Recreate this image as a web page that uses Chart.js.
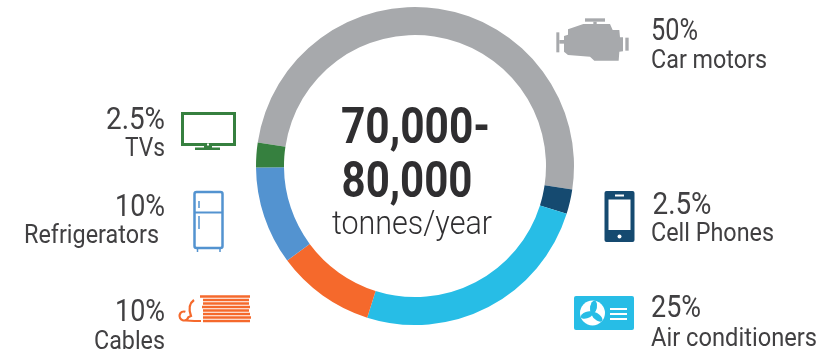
<!DOCTYPE html>
<html>
<head>
<meta charset="utf-8">
<script src="https://cdn.jsdelivr.net/npm/chart.js@4"></script>
<style>
html, body { margin: 0; padding: 0; background: #fff; }
#wrap { width: 834px; height: 352px; }
</style>
</head>
<body>
<div id="wrap"><canvas id="chart"></canvas></div>
<script>
const categories = ['Car motors', 'Cell Phones', 'Air conditioners', 'Cables', 'Refrigerators', 'TVs'];
const shares = [50, 2.5, 25, 10, 10, 2.5];
const shareLabels = ['50%', '2.5%', '25%', '10%', '10%', '2.5%'];
const colors = ['#a7a9ac', '#154a70', '#27bde6', '#f5692c', '#5393d0', '#36803f'];
const centerLines = ['70,000-', '80,000', 'tonnes/year'];

const textColor = '#414042';

// Roboto is wider than the original condensed face, so squeeze each text to its width
function label(ctx, text, x, y, size, width, align, weight, color) {
    ctx.save();
    ctx.font = (weight || 400) + ' ' + size + 'px Roboto';
    ctx.fillStyle = color || textColor;
    ctx.textBaseline = 'alphabetic';
    ctx.textAlign = 'left';
    const w = ctx.measureText(text).width;
    const left = align === 'right' ? x - width : (align === 'center' ? x - width / 2 : x);
    ctx.translate(left, y);
    ctx.scale(width / w, 1);
    ctx.fillText(text, 0, 0);
    ctx.restore();
}

function poly(ctx, pts) {
    ctx.beginPath();
    pts.forEach((p, i) => i ? ctx.lineTo(p[0], p[1]) : ctx.moveTo(p[0], p[1]));
    ctx.closePath();
    ctx.fill();
}

function drawEngine(ctx, color) {
    ctx.save();
    ctx.translate(540, 0);
    ctx.scale(1 / 3, 1 / 3);
    ctx.fillStyle = color;
    ctx.fillRect(49, 97, 9, 60);
    ctx.fillRect(58, 120, 16, 11);
    ctx.fillRect(135, 55, 60, 10);
    ctx.fillRect(160, 65, 10, 12);
    poly(ctx, [[72, 108], [84, 104], [84, 88], [130, 72], [210, 72], [218, 90], [238, 90], [240, 112], [249, 112],
        [249, 154], [238, 155], [236, 182], [163, 182], [150, 170], [84, 165], [72, 155]]);
    ctx.fillRect(256, 113, 10, 39);
    ctx.restore();
}

function drawPhone(ctx, color) {
    ctx.fillStyle = color;
    ctx.beginPath();
    ctx.roundRect(604.5, 191, 30, 51, 2);
    ctx.fill();
    ctx.fillStyle = '#fff';
    ctx.fillRect(608.5, 199.5, 22, 30.5);
    ctx.fillRect(615, 194.5, 9, 2);
    ctx.beginPath();
    ctx.arc(619.5, 236.5, 2, 0, Math.PI * 2);
    ctx.fill();
}

function drawAc(ctx, color) {
    ctx.fillStyle = color;
    ctx.beginPath();
    ctx.roundRect(574, 296, 60, 34, 2);
    ctx.fill();
    ctx.fillStyle = '#fff';
    ctx.beginPath();
    ctx.arc(592.5, 313, 12.5, 0, Math.PI * 2);
    ctx.fill();
    ctx.fillStyle = color;
    for (let a = -1.4; a < 5; a += Math.PI * 2 / 3) {
        ctx.beginPath();
        ctx.ellipse(592.5 + Math.cos(a) * 6, 313 + Math.sin(a) * 6, 6.5, 3.2, a, 0, Math.PI * 2);
        ctx.fill();
    }
    ctx.fillStyle = '#fff';
    [308, 313, 318].forEach(y => ctx.fillRect(610, y, 17, 2));
}

function drawTv(ctx, color) {
    ctx.strokeStyle = color;
    ctx.lineWidth = 3;
    ctx.strokeRect(182.5, 113.5, 52, 31);
    ctx.fillStyle = color;
    ctx.fillRect(181, 143, 55, 3);
    ctx.fillRect(204, 145, 8, 3);
    ctx.fillRect(195, 147.5, 25, 2.5);
    ctx.fillStyle = '#fff';
    ctx.fillRect(207, 143.5, 2, 2);
}

function drawFridge(ctx, color) {
    ctx.strokeStyle = color;
    ctx.lineWidth = 2.5;
    ctx.beginPath();
    ctx.roundRect(194.5, 192, 28, 56, 2);
    ctx.stroke();
    ctx.lineWidth = 2;
    ctx.beginPath();
    ctx.moveTo(194, 212.5);
    ctx.lineTo(223, 212.5);
    ctx.stroke();
    ctx.beginPath();
    ctx.moveTo(199, 201);
    ctx.lineTo(199, 208);
    ctx.moveTo(199, 216);
    ctx.lineTo(199, 229);
    ctx.moveTo(197.5, 249);
    ctx.lineTo(197.5, 252);
    ctx.moveTo(220, 249);
    ctx.lineTo(220, 252);
    ctx.lineWidth = 1.5;
    ctx.stroke();
}

function drawCables(ctx, color) {
    ctx.strokeStyle = color;
    ctx.lineWidth = 2.6;
    [[200, 250, 296.5], [203, 249, 300], [203, 249, 303.5], [202, 250, 307], [203, 249, 310.5], [203, 250, 314], [203, 251, 317.5], [203, 250, 321]]
        .forEach(l => {
            ctx.beginPath();
            ctx.moveTo(l[0], l[2]);
            ctx.lineTo(l[1], l[2]);
            ctx.stroke();
        });
    ctx.lineWidth = 2.2;
    ctx.beginPath();
    ctx.moveTo(194, 300);
    ctx.quadraticCurveTo(187, 305, 191, 316);
    ctx.arc(184, 316, 4.5, 0.3, Math.PI * 1.6, false);
    ctx.moveTo(186, 320.5);
    ctx.quadraticCurveTo(195, 321, 201, 321);
    ctx.stroke();
}

const annotations = {
    id: 'annotations',
    afterDraw(chart) {
        const ctx = chart.ctx;
        const c = chart.getDatasetMeta(0).data[0];
        const cx = c.x;

        label(ctx, centerLines[0], cx + 0.5, 143, 50, 149, 'center', 700, '#2f2e30');
        label(ctx, centerLines[1], cx - 8, 197, 50, 131, 'center', 700, '#2f2e30');
        label(ctx, centerLines[2], cx - 3, 234, 33, 160, 'center', 300, '#2f2e30');

        label(ctx, shareLabels[0], 651, 40, 32, 47);
        label(ctx, categories[0], 651, 67.5, 26, 116);
        label(ctx, shareLabels[1], 652.5, 214, 32, 59);
        label(ctx, categories[1], 651, 241, 26, 123);
        label(ctx, shareLabels[2], 651, 317, 32, 50);
        label(ctx, categories[2], 651, 346, 26, 166);

        label(ctx, shareLabels[5], 165, 129, 32, 59, 'right');
        label(ctx, categories[5], 165, 156, 26, 40, 'right');
        label(ctx, shareLabels[4], 165, 216, 32, 50, 'right');
        label(ctx, categories[4], 159, 243, 26, 135, 'right');
        label(ctx, shareLabels[3], 165, 321, 32, 50, 'right');
        label(ctx, categories[3], 165, 349, 26, 71, 'right');

        drawEngine(ctx, colors[0]);
        drawPhone(ctx, colors[1]);
        drawAc(ctx, colors[2]);
        drawCables(ctx, colors[3]);
        drawFridge(ctx, colors[4]);
        drawTv(ctx, colors[5]);
    }
};

new Chart(document.getElementById('chart'), {
    type: 'doughnut',
    data: {
        labels: categories,
        datasets: [{
            data: shares,
            backgroundColor: colors,
            borderWidth: 0
        }]
    },
    options: {
        responsive: true,
        maintainAspectRatio: false,
        animation: false,
        cutout: '82.4%',
        rotation: -81.5,
        layout: {
            padding: { left: 256, right: 260, top: 7, bottom: 27 }
        },
        plugins: {
            legend: { display: false },
            tooltip: { enabled: false },
            title: { display: false }
        }
    },
    plugins: [annotations]
});
</script>
</body>
</html>
